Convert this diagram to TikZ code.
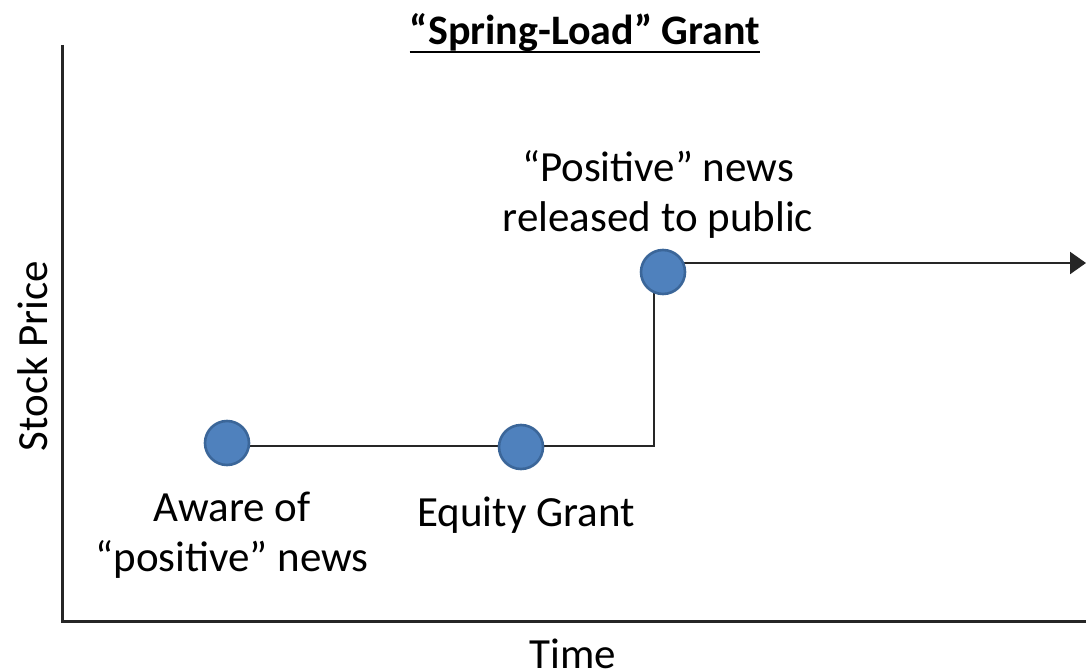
\documentclass[tikz,border=0pt]{standalone}
\usepackage{fontspec}
\setmainfont{Carlito}
\usetikzlibrary{arrows.meta,backgrounds}
\definecolor{dotblue}{HTML}{4F81BD}
\definecolor{dotrim}{HTML}{3B6699}
\begin{document}
\begin{tikzpicture}[
  x=1pt, y=-1pt,
  >={Triangle[length=16pt,width=22pt]},
  evtdot/.style={circle, draw=dotrim, fill=dotblue, line width=2.6pt, minimum size=44pt, inner sep=0pt},
  evtline/.style={draw=black!85, line width=2.4pt},
  evtlbl/.style={font={\fontsize{43}{50}\selectfont}, align=center, inner sep=0pt},
  axisline/.style={draw=black!85, line width=3pt}
]
\useasboundingbox (0,0) rectangle (1086,671);
% axes
\coordinate (ytop) at (62,45);
\coordinate (orig) at (62,621);
\coordinate (xend) at (1086,621);
\draw[axisline] (ytop) -- (orig) -- (xend);
\node[evtlbl, rotate=90] (ylbl) at (33,356) {Stock Price};
\node[evtlbl, anchor=base] (xlbl) at (573,668) {Time};
\node[font={\fontsize{42}{50}\selectfont\bfseries}, inner sep=0pt, anchor=base] (ttl) at (585,45) {“Spring-Load” Grant};
\draw[line width=2.6pt] ([yshift=-7pt]ttl.base west) -- ([yshift=-7pt]ttl.base east);
% event dots
\node[evtdot] (n1) at (227,443) {};
\node[evtdot] (n2) at (521,447) {};
\node[evtdot] (n3) at (663,272) {};
\node[evtlbl] (l1) at (232,535) {Aware of\\“positive” news};
\node[evtlbl] (l2) at (526,515) {Equity Grant};
\node[evtlbl] (l3) at (658,194) {“Positive” news\\released to public};
% price path
\coordinate (jump) at (654,446);
\coordinate (peak) at (654,280);
\coordinate (exit) at (663,263);
\coordinate (tip) at (1086,263);
\begin{scope}[on background layer]
\draw[evtline] (n1.center |- jump) -- (jump) -- (peak);
\draw[evtline, ->] (exit) -- (tip);
\end{scope}
\end{tikzpicture}
\end{document}
